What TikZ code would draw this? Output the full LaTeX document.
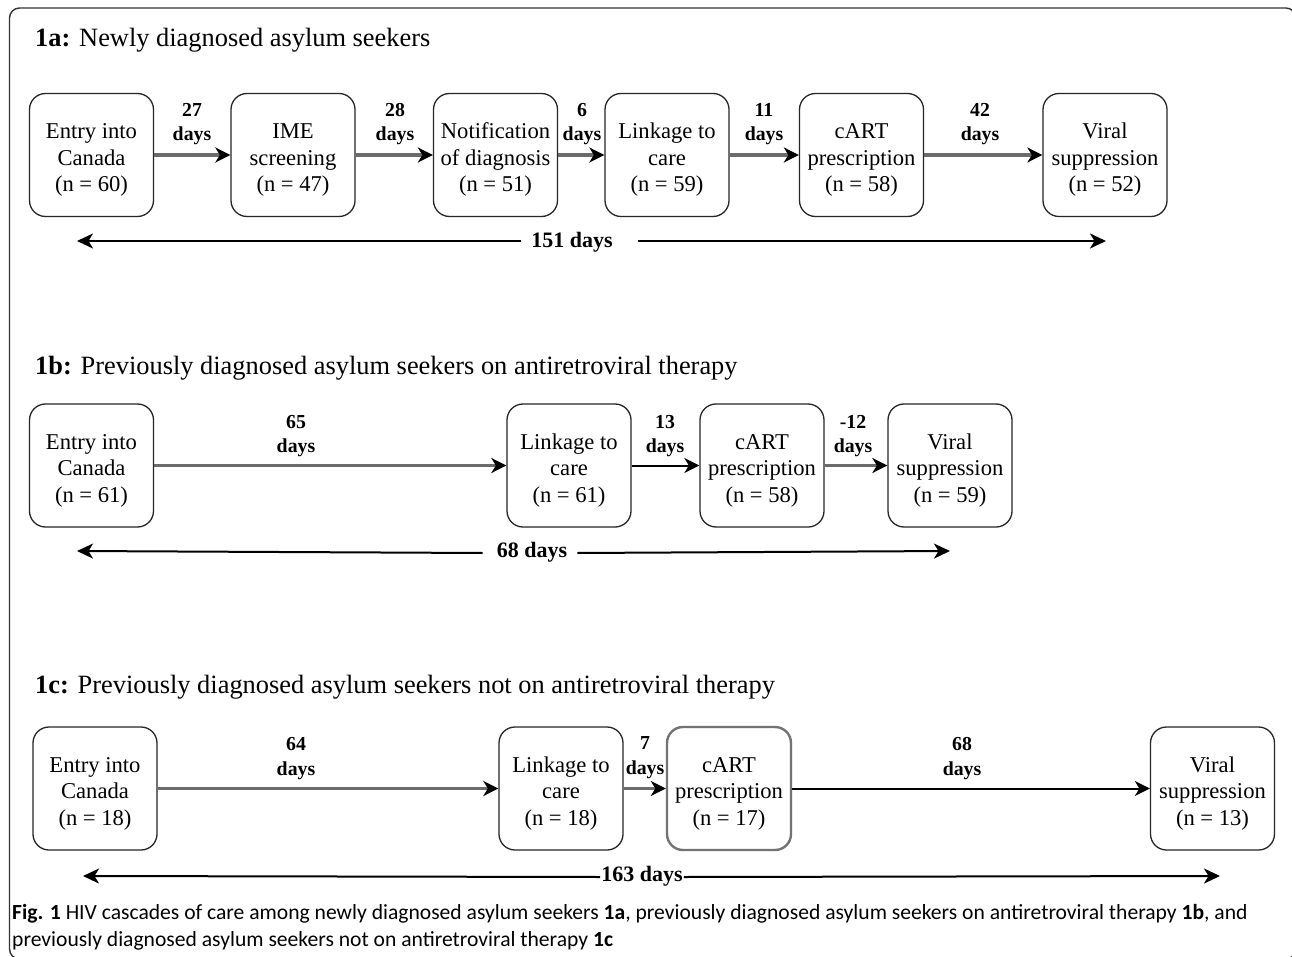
\documentclass[tikz,border=0pt]{standalone}
\usepackage{fontspec}
\setmainfont{Liberation Serif}
\newfontfamily\capfont{Carlito}
\usetikzlibrary{arrows.meta}
\newcommand\toppad{\rule{0pt}{25pt}}
\begin{document}
\begin{tikzpicture}[x=1pt,y=-1pt,
 stage/.style={draw=black!85, line width=1.3pt, rounded corners=16pt, minimum width=124pt, minimum height=123pt, align=center, inner sep=0pt, font=\fontsize{22.6}{26.5}\selectfont},
 gstage/.style={stage, draw=black!55, line width=2.4pt},
 dlabel/.style={align=center, font=\bfseries\fontsize{19.8}{24.5}\selectfont, inner sep=0pt},
 flow/.style={draw=black!58, line width=3.5pt, -{Stealth[length=15pt,width=15pt,inset=4.5pt,color=black]}},
 slim/.style={draw=black, line width=2pt, -{Stealth[length=15pt,width=15pt,inset=4.5pt]}},
 total/.style={draw=black, line width=2pt, -{Stealth[length=16pt,width=15pt,inset=4.5pt]}},
 tlabel/.style={font=\bfseries\fontsize{22}{24}\selectfont, inner sep=0pt},
 title/.style={anchor=base west, inner sep=0pt, font=\fontsize{26.4}{30}\selectfont},
 caption/.style={anchor=base west, inner sep=0pt, font=\capfont\fontsize{21.6}{24}\selectfont},
]
\useasboundingbox (0,0) rectangle (1292,957);
\fill[white] (0,0) rectangle (1292,957);
% frame
\draw[line width=1.4pt, black!80, rounded corners=10pt] (9.5,959) rectangle (1296,8);

% ---------- 1a ----------
\node[title] (t1a) at (35,47) {\textbf{1a:} Newly diagnosed asylum seekers};
\node[stage] (a1) at (91.5,155) {\toppad Entry into\\Canada\\(n = 60)};
\node[stage] (a2) at (293,155) {\toppad IME\\screening\\(n = 47)};
\node[stage] (a3) at (495.5,155) {\toppad Notification\\of diagnosis\\(n = 51)};
\node[stage] (a4) at (667,155) {\toppad Linkage to\\care\\(n = 59)};
\node[stage] (a5) at (861.5,155) {\toppad cART\\prescription\\(n = 58)};
\node[stage] (a6) at (1105,155) {\toppad Viral\\suppression\\(n = 52)};
\draw[flow] (a1) -- (a2);
\draw[flow] (a2) -- (a3);
\draw[flow] (a3) -- (a4);
\draw[flow] (a4) -- (a5);
\draw[flow] (a5) -- (a6);
\node[dlabel] (da1) at (192,124) {27\\days};
\node[dlabel] (da2) at (395,124) {28\\days};
\node[dlabel] (da3) at (582,124) {6\\days};
\node[dlabel] (da4) at (764,124) {11\\days};
\node[dlabel] (da5) at (980,124) {42\\days};
\node[tlabel] (ta) at (572,242) {151 days};
\coordinate (taL) at (77,241);
\coordinate (taR) at (1106,241);
\draw[total] ([xshift=-10pt,yshift=1pt]ta.west) -- (taL);
\draw[total] ([xshift=25pt,yshift=1pt]ta.east) -- (taR);

% ---------- 1b ----------
\node[title] (t1b) at (35,374) {\textbf{1b:} Previously diagnosed asylum seekers on antiretroviral therapy};
\node[stage] (b1) at (91.5,465.5) {\toppad Entry into\\Canada\\(n = 61)};
\node[stage] (b2) at (569,465.5) {\toppad Linkage to\\care\\(n = 61)};
\node[stage] (b3) at (762,465.5) {\toppad cART\\prescription\\(n = 58)};
\node[stage] (b4) at (950,465.5) {\toppad Viral\\suppression\\(n = 59)};
\draw[flow] (b1) -- (b2);
\draw[slim] (b2) -- (b3);
\draw[flow] (b3) -- (b4);
\node[dlabel] (db1) at (296,436) {65\\days};
\node[dlabel] (db2) at (665,436) {13\\days};
\node[dlabel] (db3) at (853,436) {-12\\days};
\node[tlabel] (tb) at (532,552) {68 days};
\coordinate (tbL) at (77,551);
\coordinate (tbR) at (950,551);
\draw[total] ([xshift=-14pt,yshift=-1pt]tb.west) -- (tbL);
\draw[total] ([xshift=10pt,yshift=-1pt]tb.east) -- (tbR);

% ---------- 1c ----------
\node[title] (t1c) at (35,693) {\textbf{1c:} Previously diagnosed asylum seekers not on antiretroviral therapy};
\node[stage] (c1) at (95,788.5) {\toppad Entry into\\Canada\\(n = 18)};
\node[stage] (c2) at (561,788.5) {\toppad Linkage to\\care\\(n = 18)};
\node[gstage] (c3) at (729,788.5) {\toppad cART\\prescription\\(n = 17)};
\node[stage] (c4) at (1212.5,788.5) {\toppad Viral\\suppression\\(n = 13)};
\draw[flow] (c1) -- (c2);
\draw[flow] (c2) -- (c3);
\draw[slim] (c3) -- (c4);
\node[dlabel] (dc1) at (296,758.5) {64\\days};
\node[dlabel] (dc2) at (645,757.5) {7\\days};
\node[dlabel] (dc3) at (962,758.5) {68\\days};
\node[tlabel] (tc) at (642,876) {163 days};
\coordinate (tcL) at (83,876);
\coordinate (tcR) at (1220,876);
\draw[total] ([xshift=-1pt,yshift=-1pt]tc.west) -- (tcL);
\draw[total] ([xshift=1pt,yshift=-1pt]tc.east) -- (tcR);

% ---------- caption ----------
\node[caption] (cap1) at (12,919) {\textbf{Fig. 1} HIV cascades of care among newly diagnosed asylum seekers \textbf{1a}, previously diagnosed asylum seekers on antiretroviral therapy \textbf{1b}, and};
\node[caption] (cap2) at (12,946) {previously diagnosed asylum seekers not on antiretroviral therapy \textbf{1c}};
\end{tikzpicture}
\end{document}
